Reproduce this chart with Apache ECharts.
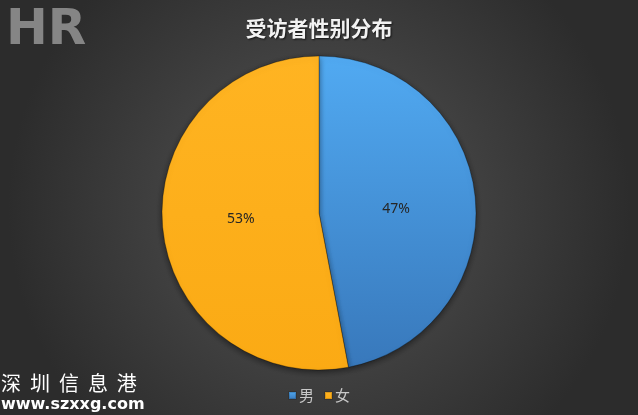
<!DOCTYPE html>
<html>
<head>
<meta charset="utf-8">
<script src="https://cdn.jsdelivr.net/npm/echarts@6/dist/echarts.min.js"></script>
<style>
html,body{margin:0;padding:0;}
#c{width:638px;height:415px;}
</style>
</head>
<body>
<div id="c"></div>
<script>
var categories = ['男', '女'];
var values = [47, 53];
var titleText = '受访者性别分布';

var chart = echarts.init(document.getElementById('c'));
var colors = [
  new echarts.graphic.LinearGradient(0, 0, 0, 1, [{offset: 0, color: '#51aaf2'}, {offset: 1, color: '#3878bb'}]),
  new echarts.graphic.LinearGradient(0, 0, 0, 1, [{offset: 0, color: '#ffb422'}, {offset: 1, color: '#fbaa14'}])
];
var labelOffsets = [[-4, 4], [3, -2]];
chart.setOption({
  backgroundColor: new echarts.graphic.RadialGradient(0.5, 0.5, 0.75, [
    {offset: 0, color: '#555555'},
    {offset: 1, color: '#2c2c2c'}
  ]),
  title: {
    text: titleText,
    left: 'center',
    top: 13,
    textStyle: {
      color: '#f2f2f2', fontSize: 21, fontWeight: 'bold',
      fontFamily: 'Noto Sans CJK SC',
      textShadowColor: 'rgba(0,0,0,0.7)', textShadowBlur: 2, textShadowOffsetX: 1, textShadowOffsetY: 1
    }
  },
  legend: {
    bottom: 7,
    left: 'center',
    itemWidth: 7,
    itemHeight: 7,
    itemGap: 10,
    icon: 'rect',
    textStyle: {color: '#c8c8c8', fontSize: 15, fontFamily: 'Noto Sans CJK SC', padding: [0, 0, 0, -2]},
    data: categories
  },
  graphic: [
    {type: 'text', left: 1, top: 373, style: {text: '深  圳  信  息  港', fill: '#ffffff', font: '20px "Noto Sans CJK SC"'}},
    {type: 'text', left: 1, top: 397, style: {text: 'www.szxxg.com', fill: '#ffffff', font: 'bold 16px "DejaVu Sans"'}},
    {type: 'text', left: 6, top: 6, style: {text: 'HR', fill: '#858585', font: 'bold 50px "DejaVu Sans"'}}
  ],
  series: [{
    type: 'pie',
    center: [319, 213],
    radius: [0, 157],
    startAngle: 90,
    clockwise: true,
    label: {
      position: 'inside',
      formatter: '{d}%',
      color: '#262626',
      fontSize: 14,
      fontFamily: 'Noto Sans'
    },
    labelLine: {show: false},
    itemStyle: {borderColor: 'rgba(0,0,0,0.15)', borderWidth: 1, shadowColor: 'rgba(0,0,0,0.5)', shadowBlur: 6, shadowOffsetY: 2},
    emphasis: {disabled: true},
    data: categories.map(function (c, i) {
      return {name: c, value: values[i], itemStyle: {color: colors[i]}, label: {offset: labelOffsets[i]}};
    })
  }]
});
</script>
</body>
</html>
